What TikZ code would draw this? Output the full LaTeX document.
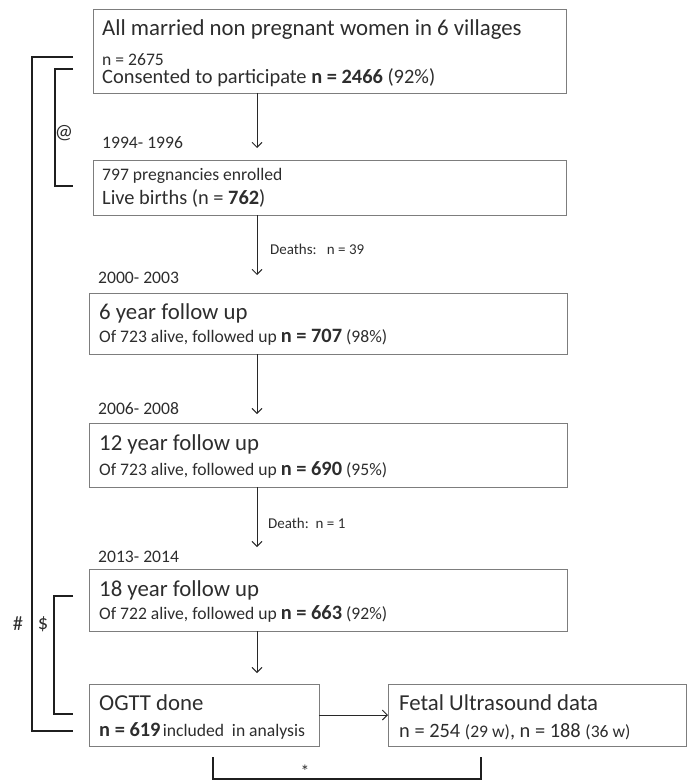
\documentclass[tikz,border=0pt]{standalone}
\usepackage{fontspec}
\setmainfont{Carlito}
\usetikzlibrary{arrows.meta}
\definecolor{txt}{RGB}{45,45,45}
\definecolor{boxc}{RGB}{125,125,125}
\definecolor{linec}{RGB}{40,40,40}
\newcommand{\fbig}{\fontsize{22.8}{26}\selectfont}
\newcommand{\fmed}{\fontsize{20.4}{24}\selectfont}
\newcommand{\fsml}{\fontsize{17.6}{20}\selectfont}
\newcommand{\ftny}{\fontsize{15}{18}\selectfont}
\begin{document}
\begin{tikzpicture}[x=1pt,y=-1pt,
  box/.style={draw=boxc, line width=0.9pt, inner sep=0pt, outer sep=0pt, anchor=north west},
  lbl/.style={anchor=base west, inner sep=0pt, text=txt},
  conn/.style={draw=linec, line width=0.9pt, -{Straight Barb[length=5pt,width=10pt,line width=0.9pt]}},
  brk/.style={draw=black!88, line width=1.8pt}]
\useasboundingbox (0,0) rectangle (688,781);

% boxes
\node[box, minimum width=473pt, minimum height=84pt] (b1) at (93,9) {};
\node[box, minimum width=473pt, minimum height=55pt] (b2) at (93,160) {};
\node[box, minimum width=478pt, minimum height=61pt] (b3) at (89,293) {};
\node[box, minimum width=478pt, minimum height=64pt] (b4) at (89,423) {};
\node[box, minimum width=478pt, minimum height=62pt] (b5) at (89,569) {};
\node[box, minimum width=230pt, minimum height=62pt] (b6) at (89,684) {};
\node[box, minimum width=298pt, minimum height=62pt] (b7) at (388,684) {};

% box texts
\node[lbl] (t1a) at (102,35.3) {\fbig All married non pregnant women in 6 villages};
\node[lbl] (t1b) at (102,66) {\fsml n = 2675};
\node[lbl] (t1c) at (102,84) {\fmed Consented to participate \textbf{n = 2466} (92\%)};

\node[lbl] (y1) at (102,148.6) {\fsml 1994- 1996};
\node[lbl] (t2a) at (102,180.6) {\fsml 797 pregnancies enrolled};
\node[lbl] (t2b) at (102,204.5) {\fmed Live births (n = \textbf{762})};

\node[lbl] (d1) at (270,254.8) {\ftny Deaths:\ \ \ n = 39};
\node[lbl] (y2) at (98,283.6) {\fsml 2000- 2003};
\node[lbl] (t3a) at (99,319.3) {\fbig 6 year follow up};
\node[lbl] (t3b) at (99,342.6) {\fsml Of 723 alive, followed up {\fmed\bfseries n = 707} (98\%)};

\node[lbl] (y3) at (98,414.6) {\fsml 2006- 2008};
\node[lbl] (t4a) at (99,450.3) {\fbig 12 year follow up};
\node[lbl] (t4b) at (99,475.6) {\fsml Of 723 alive, followed up {\fmed\bfseries n = 690} (95\%)};

\node[lbl] (d2) at (268,528.8) {\ftny Death:\ \ n = 1};
\node[lbl] (y4) at (98,562.6) {\fsml 2013- 2014};
\node[lbl] (t5a) at (99,596.3) {\fbig 18 year follow up};
\node[lbl] (t5b) at (99,619.6) {\fsml Of 722 alive, followed up {\fmed\bfseries n = 663} (92\%)};

\node[lbl] (t6a) at (99,710.3) {\fbig OGTT done};
\node[lbl] (t6b) at (99,736.5) {{\fmed\bfseries n = 619} \fsml included\ \ in analysis};

\node[lbl] (t7a) at (399,710.3) {\fbig Fetal Ultrasound data};
\node[lbl] (t7b) at (399,737.5) {\fmed n = 254 {\fsml (29 w)}, n = 188 {\fsml (36 w)}};

% arrow end points
\coordinate (e1) at (257,148);
\coordinate (e2) at (257,275);
\coordinate (e3) at (257,414);
\coordinate (e4) at (257,547);
\coordinate (e5) at (257,673);

\draw[conn] (e1 |- b1.south) -- (e1);
\draw[conn] (e2 |- b2.south) -- (e2);
\draw[conn] (e3 |- b3.south) -- (e3);
\draw[conn] (e4 |- b4.south) -- (e4);
\draw[conn] (e5 |- b5.south) -- (e5);
\draw[conn] (b6.east) -- (b6.east -| b7.west);

% brackets
\coordinate (h1) at (73,57);
\coordinate (h2) at (32,57);
\coordinate (h3) at (32,731);
\coordinate (h4) at (73,731);
\draw[brk] (h1) -- (h2) -- (h3) -- (h4);

\coordinate (a1) at (73,69);
\coordinate (a2) at (55,69);
\coordinate (a3) at (55,186);
\coordinate (a4) at (73,186);
\draw[brk] (a1) -- (a2) -- (a3) -- (a4);

\coordinate (s1) at (73,596);
\coordinate (s2) at (54,596);
\coordinate (s3) at (54,714);
\coordinate (s4) at (73,714);
\draw[brk] (s1) -- (s2) -- (s3) -- (s4);

\coordinate (c1) at (213,757);
\coordinate (c2) at (213,779);
\coordinate (c3) at (481,779);
\coordinate (c4) at (481,757);
\draw[brk] (c1) -- (c2) -- (c3) -- (c4);

% bracket labels
\node[text=txt, inner sep=0pt] (lat) at (64,133) {\fmed @};
\node[text=txt, inner sep=0pt] (lhash) at (18,624) {\fmed\#};
\node[text=txt, inner sep=0pt] (ldol) at (43,624) {\fmed\$};
\node[text=txt, inner sep=0pt] (last) at (305,771) {\fsml *};
\end{tikzpicture}
\end{document}
